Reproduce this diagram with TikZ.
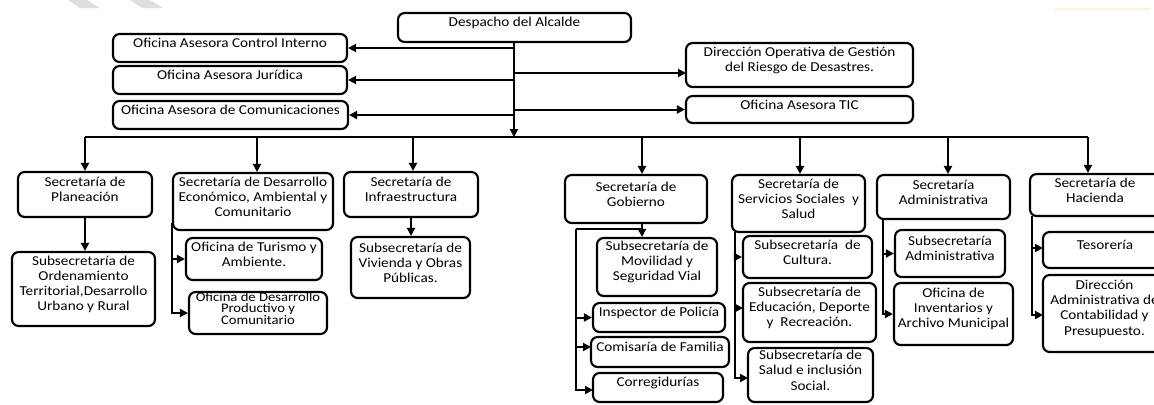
\documentclass[tikz,border=0pt]{standalone}
\usepackage{fontspec}
\setmainfont{Carlito}[FakeStretch=1.12]
\usetikzlibrary{fit,arrows.meta}
\begin{document}
\begin{tikzpicture}[x=0.75pt,y=-0.75pt,
  box/.style={draw, line width=1.6pt, rounded corners=5pt, inner sep=0pt, align=center,
    font=\fontsize{10.2pt}{11.3pt}\selectfont},
  tight/.style={font=\fontsize{9.8pt}{8.4pt}\selectfont},
  conn/.style={line width=1.5pt},
  arr/.style={conn, -{Triangle[length=6pt,width=6pt]}}]
\useasboundingbox (0,0) rectangle (1154,404);
\clip (0,0) rectangle (1154,404);
% faint decorations at the top
\fill[black!13] (68,0) -- (87,0) -- (100,8) -- (80,8) -- cycle;
\fill[black!13] (130,0) -- (150,0) -- (163,8) -- (142,8) -- cycle;
\draw[orange!12, line width=1pt] (1055,9) -- (1150,9);

% top level
\node[box, fit={(398,13) (631,42)}] (desp) {Despacho del Alcalde};
\node[box, fit={(113,34) (347,62)}] (oaci) {Oficina Asesora Control Interno};
\node[box, fit={(113,66) (347,94)}] (oaj) {Oficina Asesora Jurídica};
\node[box, fit={(113,101) (348,129)}] (oac) {Oficina Asesora de Comunicaciones};
\node[box, fit={(686,43) (913,87)}] (dir) {Dirección Operativa de Gestión\\del Riesgo de Desastres.};
\node[box, fit={(686,96) (913,123)}] (tic) {Oficina Asesora TIC};

% secretarias
\node[box, fit={(18,172) (152,217)}] (plan) {Secretaría de\\Planeación};
\node[box, fit={(12,252) (155,326)}] (ord) {Subsecretaría de\\Ordenamiento\\Territorial,Desarrollo\\Urbano y Rural};
\node[box, fit={(173,173) (333,230)}] (desa) {Secretaría de Desarrollo\\Económico, Ambiental y\\Comunitario};
\node[box, fit={(186,238) (322,280)}] (tur) {Oficina de Turismo y\\Ambiente.};
\node[box, tight, fit={(189,292) (327,334)}] (prod) {Oficina de Desarrollo\\Productivo y\\Comunitario};
\node[box, fit={(344,172) (478,217)}] (infra) {Secretaría de\\Infraestructura};
\node[box, fit={(351,237) (470,298)}] (viv) {Subsecretaría de\\Vivienda y Obras\\Públicas.};
\node[box, fit={(565,175) (707,223)}] (gob) {Secretaría de\\Gobierno};
\node[box, fit={(597,238) (717,296)}] (mov) {Subsecretaría de\\Movilidad y\\Seguridad Vial};
\node[box, fit={(593,303) (725,332)}] (insp) {Inspector de Policía};
\node[box, fit={(591,337) (729,367)}] (com) {Comisaría de Familia};
\node[box, fit={(593,373) (723,402)}] (corr) {Corregidurías};
\node[box, fit={(732,175) (865,232)}] (serv) {Secretaría de\\Servicios Sociales\ \ y\\Salud};
\node[box, fit={(743,236) (872,278)}] (cul) {Subsecretaría\ \ de\\Cultura.};
\node[box, fit={(743,283) (876,342)}] (edu) {Subsecretaría de\\Educación, Deporte\\y\ \ Recreación.};
\node[box, fit={(748,348) (873,402)}] (sal) {Subsecretaría de\\Salud e inclusión\\Social.};
\node[box, fit={(877,175) (1010,219)}] (adm) {Secretaría\\Administrativa};
\node[box, fit={(895,230) (1005,277)}] (sadm) {Subsecretaría\\Administrativa};
\node[box, fit={(894,283) (1013,345)}] (inv) {Oficina de\\Inventarios y\\Archivo Municipal};
\node[box, fit={(1030,174) (1160,216)}] (hac) {Secretaría de\\Hacienda};
\node[box, fit={(1043,232) (1167,268)}] (tes) {Tesorería};
\node[box, fit={(1043,275) (1166,352)}] (dca) {Dirección\\Administrativa de\\Contabilidad y\\Presupuesto.};

% trunk and advisory offices
\coordinate (bus) at (514,137);
\draw[arr] (desp.south -| bus) -- (bus);
\draw[arr] (bus |- oaci.east) -- (oaci.east);
\draw[arr] (bus |- oaj.east) -- (oaj.east);
\draw[arr] (bus |- oac.east) -- (oac.east);
\coordinate (dirin) at (686,73);
\draw[arr] (bus |- dirin) -- (dirin);
\draw[arr] (bus |- tic.west) -- (tic.west);

% bus to secretarias
\coordinate (t1) at (85,137);
\coordinate (t2) at (257,137);
\coordinate (t3) at (413,137);
\coordinate (t4) at (642,137);
\coordinate (t5) at (800,137);
\coordinate (t6) at (948,137);
\coordinate (t7) at (1088,137);
\draw[conn] (t1) -- (t7);
\draw[arr] (t1) -- (t1 |- plan.north);
\draw[arr] (t2) -- (t2 |- desa.north);
\draw[arr] (t3) -- (t3 |- infra.north);
\draw[arr] (t4) -- (t4 |- gob.north);
\draw[arr] (t5) -- (t5 |- serv.north);
\draw[arr] (t6) -- (t6 |- adm.north);
\draw[arr] (t7) -- (t7 |- hac.north);

% Planeacion
\draw[arr] (plan.south) -- (plan.south |- ord.north);
% Desarrollo
\coordinate (dj) at (172,223);
\draw[arr] (dj) |- (tur.west);
\draw[arr] (dj) |- (prod.west);
% Infraestructura
\draw[arr] (infra.south) -- (infra.south |- viv.north);
% Gobierno
\coordinate (gm) at (642,229);
\coordinate (gj) at (576,229);
\draw[arr] (gm |- gob.south) -- (gm |- mov.north);
\draw[conn] (gm) -- (gj);
\draw[arr] (gj |- insp.west) -- (insp.west);
\coordinate (comin) at (591,347);
\draw[arr] (gj |- comin) -- (comin);
\coordinate (corrin) at (593,390);
\draw[arr] (gj) |- (corrin);
% Servicios sociales
\coordinate (sj) at (735,232);
\draw[arr] (sj) |- (cul.west);
\coordinate (eduin) at (743,308);
\draw[arr] (sj |- eduin) -- (eduin);
\coordinate (salin) at (748,378);
\draw[arr] (sj) |- (salin);
% Administrativa
\coordinate (aj) at (883,219);
\draw[arr] (aj) |- (sadm.west);
\draw[arr] (aj) |- (inv.west);
% Hacienda
\coordinate (hj) at (1032,216);
\coordinate (tesin) at (1043,248);
\draw[arr] (hj) |- (tesin);
\coordinate (dcain) at (1043,315);
\draw[arr] (hj) |- (dcain);
\end{tikzpicture}
\end{document}
